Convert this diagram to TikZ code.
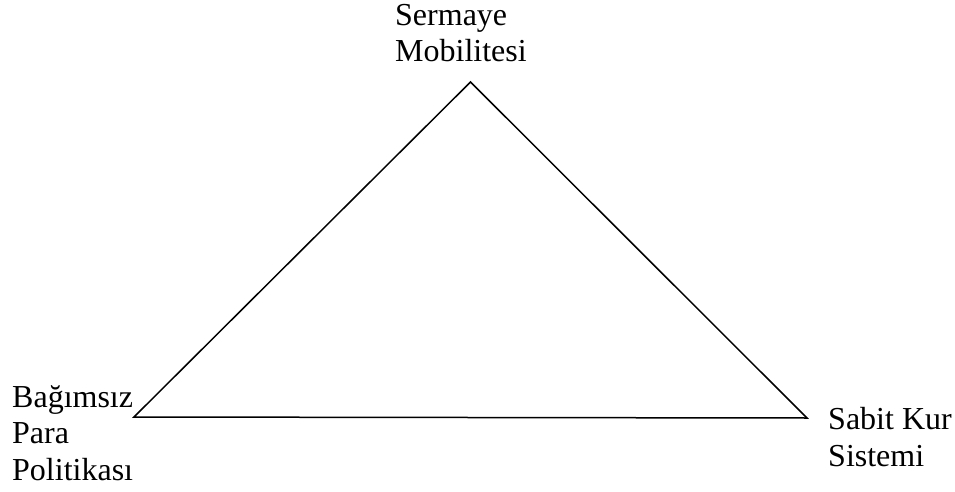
\documentclass[tikz,border=0pt]{standalone}
\usepackage{fontspec}
\setmainfont{Liberation Serif}
\usepackage{tikz}
\usetikzlibrary{positioning}

\begin{document}
\begin{tikzpicture}[
        x=1pt, y=-1pt,
        side/.style={
            draw=black,
            line width=1.5pt
        },
        corner/.style={
            font=\fontsize{32}{36.5}\selectfont,
            align=left,
            inner sep=0pt,
            anchor=base west
        }
    ]
        \useasboundingbox (0,0) rectangle (955,492);

        % Corners of the triangle
        \coordinate (apex) at (470.5, 82);
        \coordinate (west) at (134, 417);
        \coordinate (east) at (807, 418);

        % Sides
        \draw[side] (apex) -- (east) -- (west) -- cycle;

        % Labels (anchored at the baseline of the last line)
        \node[corner] (sermaye) at (395, 62) {Sermaye\\Mobilitesi};
        \node[corner] (para) at (12, 480) {Bağımsız\\Para\\Politikası};
        \node[corner] (kur) at (828, 466) {Sabit Kur\\Sistemi};
    \end{tikzpicture}
\end{document}
